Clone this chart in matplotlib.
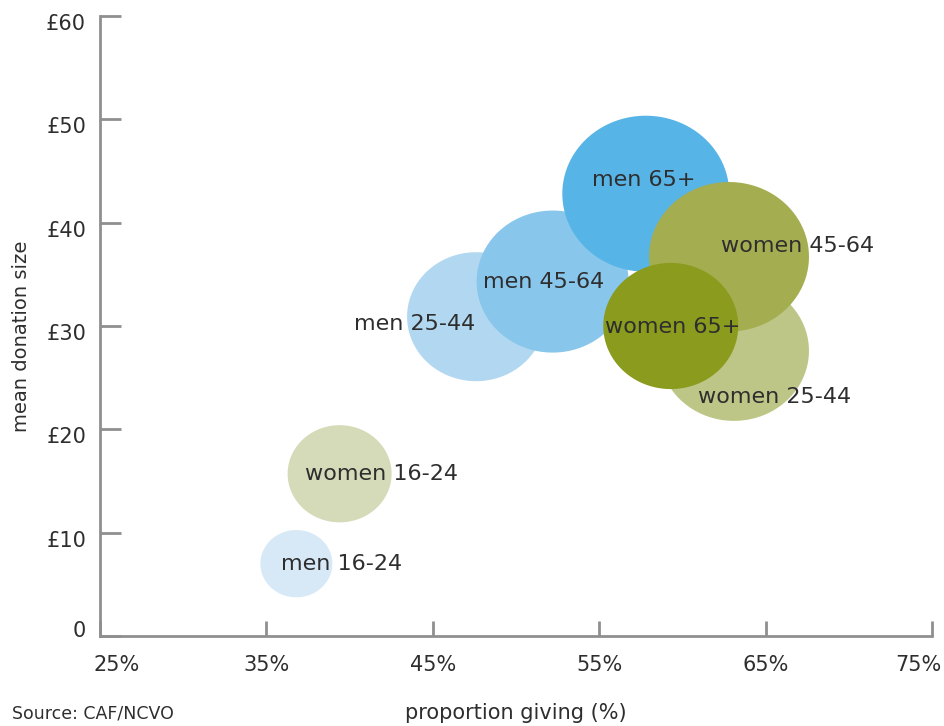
import numpy as np
import matplotlib
matplotlib.use("Agg")
import matplotlib.pyplot as plt
from matplotlib.path import Path
from matplotlib.transforms import ScaledTranslation

# data
groups = ["men 16-24", "women 16-24", "men 25-44", "men 45-64",
          "men 65+", "women 25-44", "women 45-64", "women 65+"]
giving = [36.8, 39.4, 47.6, 52.2, 57.8, 63.1, 62.8, 59.3]      # % giving
donation = [7.0, 15.7, 30.9, 34.3, 42.8, 27.6, 36.7, 30.0]     # mean donation (GBP)
bubble = [72, 104, 138, 152, 167, 150, 160, 135]               # relative bubble size

x_ticks = [25, 35, 45, 55, 65, 75]
y_ticks = [0, 10, 20, 30, 40, 50, 60]
x_labels = ["25%", "35%", "45%", "55%", "65%", "75%"]
y_labels = ["0", "£10", "£20", "£30", "£40", "£50", "£60"]

colors = ["#d7e9f7", "#d5dbb8", "#b1d7f1", "#88c6ec", "#57b4e6",
          "#bdc686", "#a4ae51", "#8a9b1d"]
# label offset from bubble centre (points)
lab_off = [(-11, 0), (-25, 0), (-88, -5), (-50, 0), (-39, 10), (-26, -33), (-6, 8), (-47, -1)]

grey = "#8f8f8f"
txt = "#2e2e2e"
DPI = 100

fig = plt.figure(figsize=(9.45, 7.26), dpi=DPI)
ax = fig.add_axes([100/945, 90/726, 832/945, 620/726])

# slightly wide ellipse marker
t = np.linspace(0, 2*np.pi, 100)
ell = Path(np.column_stack([np.cos(t), np.sin(t) / 1.07]), closed=True)

for i in range(len(groups)):
    d = bubble[i] * 72 / DPI
    ax.scatter(giving[i], donation[i], s=d**2, marker=ell, color=colors[i],
               edgecolors="none", zorder=2 + i)

for i in range(len(groups)):
    ax.annotate(groups[i], (giving[i], donation[i]), xytext=lab_off[i],
                textcoords="offset points", ha="left", va="center",
                fontsize=16, color=txt, zorder=20)

ax.set_xlim(25, 75)
ax.set_ylim(0, 60)
ax.set_xticks(x_ticks, x_labels)
ax.set_yticks(y_ticks, y_labels)
for s in ["top", "right"]:
    ax.spines[s].set_visible(False)
for s in ["left", "bottom"]:
    ax.spines[s].set_color(grey)
    ax.spines[s].set_linewidth(2)
ax.tick_params(axis="y", direction="in", length=15, width=2, color=grey,
               labelsize=15, labelcolor=txt, pad=10)
ax.tick_params(axis="x", direction="in", length=11, width=2, color=grey,
               labelsize=15, labelcolor=txt, pad=14)

def shift(lab, dx, dy):
    lab.set_transform(lab.get_transform() + ScaledTranslation(dx/DPI, dy/DPI, fig.dpi_scale_trans))

xl = ax.get_xticklabels()
shift(xl[0], 17, 0)
shift(xl[-1], -14, 0)
yl = ax.get_yticklabels()
shift(yl[0], 0, 7)
for lab in yl[1:]:
    shift(lab, 0, -6)

fig.text(516/945, 1 - 713/726, "proportion giving (%)", ha="center", va="center",
         fontsize=15, color=txt)
fig.text(22/945, 1 - 336/726, "mean donation size", ha="center", va="center",
         rotation=90, fontsize=14, color=txt)
fig.text(12/945, 1 - 714/726, "Source: CAF/NCVO", ha="left", va="center",
         fontsize=12.5, color=txt)

fig.savefig("out.png", dpi=DPI)
